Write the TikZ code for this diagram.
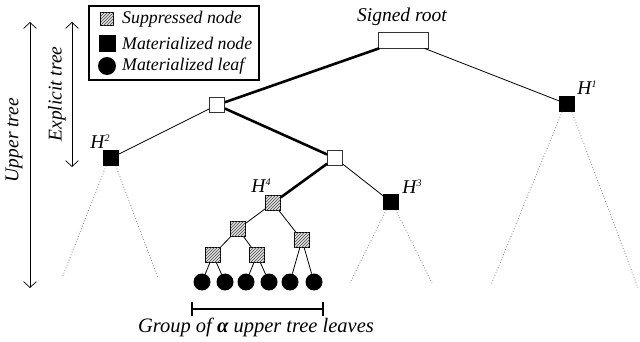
\documentclass[tikz,border=0pt]{standalone}
\usepackage{fontspec}
\setmainfont{Liberation Serif}
\usetikzlibrary{patterns,arrows.meta}
\begin{document}
\begin{tikzpicture}[x=1pt,y=-1pt,
  sq/.style={draw,minimum size=15pt,inner sep=0pt,line width=0.7pt},
  plainsq/.style={sq,fill=white,draw=black!80},
  matsq/.style={sq,fill=black},
  supsq/.style={sq,fill=gray!25,postaction={pattern=north east lines,pattern color=black!70}},
  leaf/.style={circle,fill=black,minimum size=17pt,inner sep=0pt},
  thinedge/.style={line width=0.8pt},
  thickedge/.style={line width=2.6pt},
  dotline/.style={dotted,gray,line width=0.8pt},
  lbl/.style={font=\fontsize{19.5}{21}\selectfont\itshape,inner sep=0pt},
  leglbl/.style={font=\fontsize{17.8}{20}\selectfont\itshape,inner sep=0pt,anchor=west},
  dimarrow/.style={line width=0.7pt,{Straight Barb[length=6pt,width=13pt]}-{Straight Barb[length=6pt,width=13pt]}}
]
\useasboundingbox (0,0) rectangle (640,342);

% legend
\node[draw,line width=1.4pt,minimum width=170pt,minimum height=74pt,inner sep=0pt] (legend) at (174,43) {};
\node[supsq,minimum size=13pt] (legsup) at (107,19) {};
\node[matsq,minimum size=16pt] (legmat) at (107,43) {};
\node[leaf,minimum size=18pt] (legleaf) at (107,66) {};
\node[leglbl] (legsupt) at (122,19) {Suppressed node};
\node[leglbl] (legmatt) at (122,43) {Materialized node};
\node[leglbl] (legleaft) at (122,66) {Materialized leaf};

% side arrows
\coordinate (ut1) at (30,22);
\coordinate (ut2) at (30,288);
\draw[dimarrow] (ut1) -- (ut2);
\node[lbl,rotate=90] (utl) at (14,140) {Upper tree};
\coordinate (et1) at (72,22);
\coordinate (et2) at (72,167);
\draw[dimarrow] (et1) -- (et2);
\node[lbl,rotate=90] (etl) at (57,94) {Explicit tree};

% tree nodes
\node[draw=black!80,line width=0.7pt,minimum width=50pt,minimum height=16pt,inner sep=0pt,fill=white] (root) at (403,40) {};
\node[lbl] (rootl) at (402,17) {Signed root};
\node[plainsq] (A) at (217,105) {};
\node[plainsq] (B) at (335,158) {};
\node[matsq] (H1) at (567,104) {};
\node[matsq] (H2) at (111,158) {};
\node[matsq] (H3) at (391,202) {};
\node[supsq] (H4) at (273,203) {};
\node[supsq] (L2a) at (238,229) {};
\node[supsq] (L2b) at (302,240) {};
\node[supsq] (L3a) at (213,255) {};
\node[supsq] (L3b) at (257,255) {};
\node[leaf] (f1) at (202,282) {};
\node[leaf] (f2) at (225,282) {};
\node[leaf] (f3) at (246,282) {};
\node[leaf] (f4) at (269,282) {};
\node[leaf] (f5) at (290,282) {};
\node[leaf] (f6) at (314,282) {};

% H labels
\node[lbl] (H1l) at (587,88) {H\raisebox{0.8ex}{\fontsize{10}{10}\selectfont 1}};
\node[lbl] (H2l) at (100,142) {H\raisebox{0.8ex}{\fontsize{10}{10}\selectfont 2}};
\node[lbl] (H3l) at (412,187) {H\raisebox{0.8ex}{\fontsize{10}{10}\selectfont 3}};
\node[lbl] (H4l) at (261,186) {H\raisebox{0.8ex}{\fontsize{10}{10}\selectfont 4}};

% edges
\draw[thickedge] (root) -- (A);
\draw[thinedge] (root) -- (H1);
\draw[thinedge] (A) -- (H2);
\draw[thickedge] (A) -- (B);
\draw[thinedge] (B) -- (H3);
\draw[thickedge] (B) -- (H4);
\draw[thinedge] (H4) -- (L2a);
\draw[thinedge] (H4) -- (L2b);
\draw[thinedge] (L2a) -- (L3a);
\draw[thinedge] (L2a) -- (L3b);
\draw[thinedge] (L3a) -- (f1);
\draw[thinedge] (L3a) -- (f2);
\draw[thinedge] (L3b) -- (f3);
\draw[thinedge] (L3b) -- (f4);
\draw[thinedge] (L2b) -- (f5);
\draw[thinedge] (L2b) -- (f6);

% dotted subtrees
\coordinate (H2a) at (62,278);
\coordinate (H2b) at (158,278);
\coordinate (H3a) at (350,283);
\coordinate (H3b) at (432,283);
\coordinate (H1a) at (491,285);
\coordinate (H1b) at (638,288);
\draw[dotline] ([xshift=3pt]H2.south west) -- (H2a);
\draw[dotline] ([xshift=-3pt]H2.south east) -- (H2b);
\draw[dotline] ([xshift=3pt]H3.south west) -- (H3a);
\draw[dotline] ([xshift=-3pt]H3.south east) -- (H3b);
\draw[dotline] ([xshift=3pt]H1.south west) -- (H1a);
\draw[dotline] ([xshift=-3pt]H1.south east) -- (H1b);

% group bracket
\coordinate (g1) at (192,309);
\coordinate (g2) at (323,309);
\draw[line width=1.4pt] (g1) -- (g2);
\draw[line width=1.4pt] ([yshift=-7pt]g1) -- ([yshift=7pt]g1);
\draw[line width=1.4pt] ([yshift=-7pt]g2) -- ([yshift=7pt]g2);
\node[lbl,font=\fontsize{20.5}{22}\selectfont\itshape] (gl) at (256,327) {Group of \textbf{α} upper tree leaves};
\end{tikzpicture}
\end{document}
